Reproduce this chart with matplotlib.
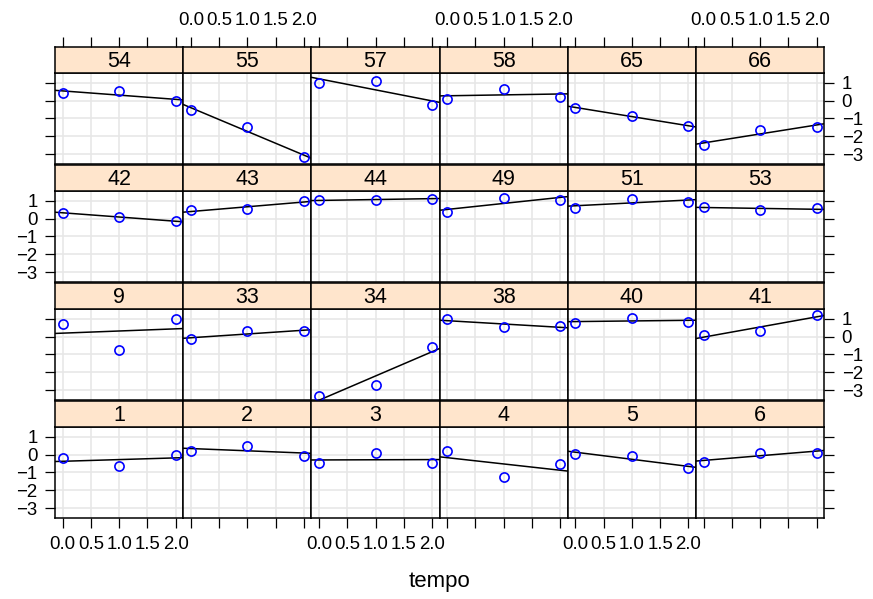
import numpy as np
import matplotlib
matplotlib.use('Agg')
from matplotlib import pyplot as plt

plt.rcParams['font.family'] = ['Liberation Sans', 'DejaVu Sans']

# time points and subject layout (rows from top to bottom)
tempo = [0, 1, 2]
sujeitos = [54, 55, 57, 58, 65, 66,
            42, 43, 44, 49, 51, 53,
            9, 33, 34, 38, 40, 41,
            1, 2, 3, 4, 5, 6]

# response at tempo 0, 1, 2 for each subject (same order as sujeitos)
y_t0 = [0.43, -0.51, 0.97, 0.09, -0.41, -2.48,
        0.32, 0.45, 1.01, 0.36, 0.60, 0.66,
        0.71, -0.14, -3.29, 0.97, 0.75, 0.09,
        -0.19, 0.19, -0.49, 0.19, 0.04, -0.41]
y_t1 = [0.51, -1.50, 1.07, 0.66, -0.85, -1.63,
        0.08, 0.53, 1.05, 1.13, 1.09, 0.47,
        -0.74, 0.28, -2.72, 0.52, 1.03, 0.28,
        -0.66, 0.49, 0.08, -1.26, -0.09, 0.09]
y_t2 = [-0.04, -3.15, -0.26, 0.19, -1.43, -1.48,
        -0.15, 0.98, 1.11, 1.03, 0.92, 0.56,
        0.95, 0.28, -0.59, 0.60, 0.82, 1.22,
        0.00, -0.06, -0.47, -0.51, -0.75, 0.11]

x_ticks = [0, 0.5, 1, 1.5, 2]
x_labels = ['0.0', '0.5', '1.0', '1.5', '2.0']
y_ticks = [1, 0, -1, -2, -3]
y_labels = ['1', '0', '\u22121', '\u22122', '\u22123']

W, H = 873, 599
fig = plt.figure(figsize=(W / 100, H / 100), dpi=100)

nrow, ncol = 4, 6
x_left, col_w = 55, 128.2
strip_top0, strip_h, panel_h, row_step = 46.7, 26.7, 91.0, 118.0
xlim = (-0.135, 2.135)
ylim = (-3.56, 1.51)
tick_fs = 13.4

for i, sid in enumerate(sujeitos):
    r, c = divmod(i, ncol)
    left = x_left + c * col_w
    s_top = strip_top0 + r * row_step
    p_top = s_top + strip_h

    # panel
    ax = fig.add_axes([left / W, 1 - (p_top + panel_h) / H, col_w / W, panel_h / H])
    ax.set_xlim(*xlim)
    ax.set_ylim(*ylim)
    for xt in x_ticks:
        ax.axvline(xt, color='#e6e6e6', lw=1.1, zorder=0)
    for yt in y_ticks:
        ax.axhline(yt, color='#e6e6e6', lw=1.1, zorder=0)

    yy = np.array([y_t0[i], y_t1[i], y_t2[i]])
    slope, inter = np.polyfit(tempo, yy, 1)
    xs = np.array(xlim)
    ax.plot(xs, inter + slope * xs, color='black', lw=1.1, zorder=2)
    ax.plot(tempo, yy, 'o', mfc='none', mec='blue', mew=1.2, ms=6.6, zorder=3)

    for sp in ax.spines.values():
        sp.set_linewidth(1.1)
        sp.set_color('black')

    # ticks: outer sides only
    ax.set_xticks(x_ticks)
    ax.set_yticks(y_ticks)
    ax.tick_params(direction='out', length=7.5, width=0.9, labelsize=tick_fs, pad=5)
    ax.tick_params(axis='x', bottom=(r == nrow - 1), top=False,
                   labelbottom=(r == nrow - 1 and c % 2 == 0), labeltop=False)
    ax.tick_params(axis='y', left=(c == 0), right=(c == ncol - 1),
                   labelleft=(c == 0 and r % 2 == 1),
                   labelright=(c == ncol - 1 and r % 2 == 0))
    ax.set_xticklabels(x_labels)
    ax.set_yticklabels(y_labels)

    # strip
    sax = fig.add_axes([left / W, 1 - (s_top + strip_h) / H, col_w / W, strip_h / H])
    sax.set_facecolor('#ffe5cc')
    sax.set_xlim(*xlim)
    sax.set_yticks([])
    sax.text(0.5, 0.45, str(sid), transform=sax.transAxes, ha='center', va='center',
             fontsize=15.5)
    for sp in sax.spines.values():
        sp.set_linewidth(1.1)
    if r == 0:
        sax.set_xticks(x_ticks)
        sax.set_xticklabels(x_labels)
        sax.tick_params(axis='x', direction='out', length=7.5, width=0.9, labelsize=tick_fs,
                        pad=5, bottom=False, labelbottom=False, top=True,
                        labeltop=(c % 2 == 1))
    else:
        sax.set_xticks([])

fig.text(439.5 / W, 1 - 581 / H, 'tempo', ha='center', va='center', fontsize=16)

fig.savefig('out.png', dpi=100)
